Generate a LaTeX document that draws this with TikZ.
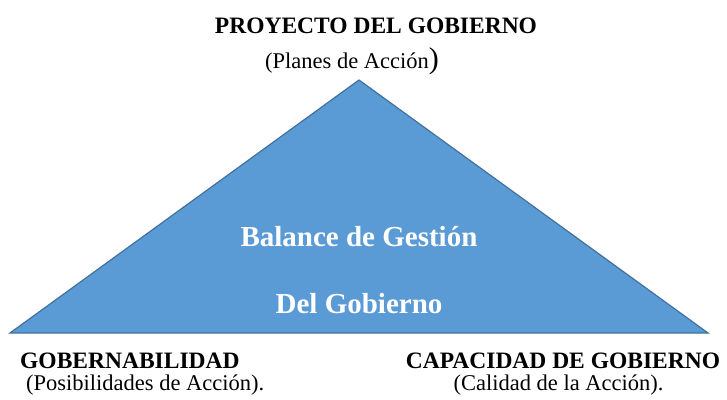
\documentclass[tikz,border=0pt]{standalone}
\usepackage{fontspec}
\setmainfont{Liberation Serif}
\definecolor{trifill}{HTML}{5B9BD5}
\definecolor{triedge}{HTML}{41719C}
\tikzset{
  bold/.style={font=\fontsize{23.5}{26}\selectfont\bfseries, inner sep=0pt},
  plain/.style={font=\fontsize{22.5}{26}\selectfont, inner sep=0pt},
  inner/.style={font=\fontsize{29}{32}\selectfont\bfseries, text=white, inner sep=0pt}
}
\begin{document}
\begin{tikzpicture}[x=1pt,y=-1pt]
\useasboundingbox (0,0) rectangle (727,399);
\coordinate (apex) at (359,80);
\coordinate (bl) at (10,333);
\coordinate (br) at (708,333);
\draw[fill=trifill, draw=triedge, line width=1.2pt, line join=miter] (apex) -- (br) -- (bl) -- cycle;
\node[bold, anchor=base] (title) at (376,33) {PROYECTO DEL GOBIERNO};
\node[plain, anchor=base west] (planes) at (265,68) {(Planes de Acción\fontsize{30}{32}\selectfont)};
\node[inner, anchor=base] (bal) at (359,246) {Balance de Gestión};
\node[inner, anchor=base] (del) at (359,313) {Del Gobierno};
\node[bold, anchor=base west] (gob) at (20,368) {GOBERNABILIDAD};
\node[plain, anchor=base west] (pos) at (26,390) {(Posibilidades de Acción).};
\node[bold, anchor=base] (cap) at (563,368) {CAPACIDAD DE GOBIERNO};
\node[plain, anchor=base] (cal) at (558.5,390) {(Calidad de la Acción).};
\end{tikzpicture}
\end{document}
